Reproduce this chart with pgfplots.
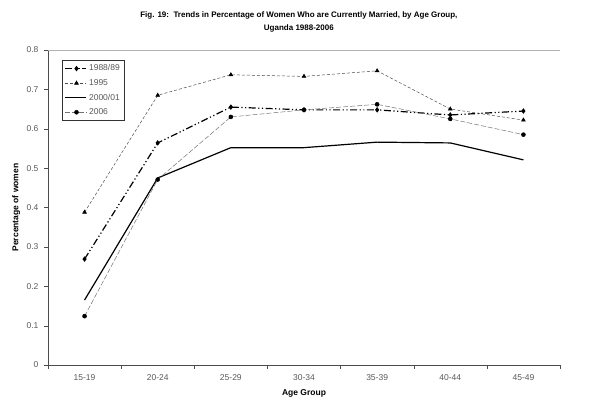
\documentclass[border=0pt]{standalone}
\usepackage{pgfplots}
\pgfplotsset{compat=1.18}
\usepackage{fontspec}
\setmainfont{Liberation Sans}
\definecolor{tickgray}{gray}{0.35}
\definecolor{boxgray}{gray}{0.7}
\begin{document}
\begin{tikzpicture}
\begin{axis}[
  scale only axis, width=512pt, height=315pt,
  xmin=-0.5, xmax=6.5, ymin=0, ymax=0.8,
  axis x line*=bottom, axis y line*=left,
  axis line style={draw=black!70, line width=0.6pt, -},
  xtick={0,...,6},
  xticklabels={15-19,20-24,25-29,30-34,35-39,40-44,45-49},
  minor xtick={-0.5,0.5,...,6.5},
  ytick={0,0.1,...,0.8},
  yticklabel style={/pgf/number format/fixed, /pgf/number format/precision=1},
  /pgf/number format/assume math mode=true,
  tick label style={font=\fontsize{8.5}{9}\selectfont, text=tickgray},
  x tick label style={yshift=-2pt},
  y tick label style={xshift=-2pt},
  xtick style={draw=none},
  minor x tick style={draw=black!70},
  minor tick length=4pt,
  ytick style={draw=black!70},
  tick align=outside, major tick length=4pt,
  xlabel={Age Group}, ylabel={Percentage of women},
  xlabel style={font=\bfseries\fontsize{8.5}{9}\selectfont, at={(axis description cs:0.5,-0.089)}, anchor=center},
  ylabel style={font=\bfseries\fontsize{8.5}{9}\selectfont, at={(axis description cs:-0.062,0.5)}, anchor=center, rotate=0},
  title={Fig. 19:\ \ Trends in Percentage of Women Who are Currently Married, by Age Group,\\Uganda 1988-2006},
  title style={font=\bfseries\fontsize{8.0}{13}\selectfont, align=center, at={(axis description cs:0.49,1)}, anchor=south, yshift=8pt},
  legend style={at={(0.027,0.968)}, anchor=north west, draw=black!80, font=\fontsize{8.5}{9}\selectfont, text=tickgray, row sep=3pt, inner sep=2.5pt},
  legend cell align=left,
  legend image code/.code={\draw[#1] (0cm,0cm) -- (0.75cm,0cm); \draw[#1, only marks] plot coordinates {(0.4cm,0cm)};},
]
\addplot[black, line width=1.2pt, dash pattern=on 7pt off 2.5pt on 1.2pt off 2.5pt on 1.2pt off 2.5pt, mark=diamond*, mark size=1.8pt, mark options={solid, fill=black}]
  coordinates {(0,0.269) (1,0.564) (2,0.655) (3,0.648) (4,0.648) (5,0.635) (6,0.645)};
\addlegendentry{1988/89}
\addplot[black!70, line width=0.5pt, dash pattern=on 3pt off 2pt, mark=triangle*, mark size=2.2pt, mark options={solid, fill=black, draw=black}]
  coordinates {(0,0.388) (1,0.685) (2,0.737) (3,0.733) (4,0.747) (5,0.650) (6,0.622)};
\addlegendentry{1995}
\addplot[black, line width=1.2pt, no marks]
  coordinates {(0,0.165) (1,0.475) (2,0.552) (3,0.552) (4,0.566) (5,0.564) (6,0.521)};
\addlegendentry{2000/01}
\addplot[black!55, line width=0.5pt, dash pattern=on 5pt off 2pt, mark=*, mark size=2pt, mark options={solid, fill=black, draw=black}]
  coordinates {(0,0.124) (1,0.471) (2,0.630) (3,0.648) (4,0.662) (5,0.625) (6,0.585)};
\addlegendentry{2006}
\draw[boxgray, line width=0.6pt] (rel axis cs:0,1) -- (rel axis cs:1,1) -- (rel axis cs:1,0);
\end{axis}
\useasboundingbox (-48pt,-44pt) rectangle (552pt,365pt);
\end{tikzpicture}
\end{document}
